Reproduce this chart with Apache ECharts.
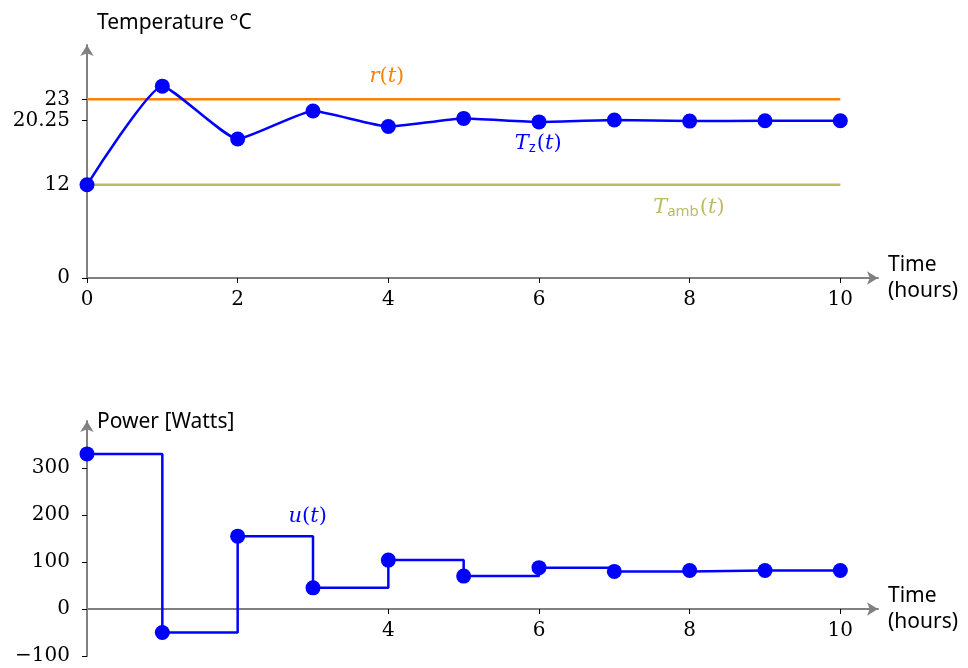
<!DOCTYPE html>
<html>
<head>
<meta charset="utf-8">
<script src="https://cdn.jsdelivr.net/npm/echarts@6/dist/echarts.min.js"></script>
<style>html,body{margin:0;padding:0;background:#fff}#c{width:968px;height:668px}</style>
</head>
<body>
<div id="c"></div>
<script>
// ---- data ----
const hours = [0, 1, 2, 3, 4, 5, 6, 7, 8, 9, 10];
const zoneTemp = [12, 24.7, 17.9, 21.5, 19.5, 20.55, 20.1, 20.35, 20.2, 20.25, 20.25];
const refTemp = [23, 23];
const ambTemp = [12, 12];
const refHours = [0, 10];
const power = [330, -50, 155, 45, 104, 70, 88, 80, 82, 82, 82];
const tempTicks = [0, 12, 20.25, 23];
const powerTicks = [-100, 0, 100, 200, 300];
const topHourTicks = [0, 2, 4, 6, 8, 10];
const bottomHourTicks = [4, 6, 8, 10];

const GRAY = '#808080';
const BLUE = '#0000ff';
const ORANGE = '#ff8000';
const OLIVE = '#bcbc62';
const SERIF = '"DejaVu Serif", "Liberation Serif", serif';
const SANS = '"Noto Sans", "DejaVu Sans", sans-serif';

const pairs = (xs, ys) => xs.map((x, i) => [x, ys[i]]);

function xAxisDef(gridIndex, ticks, offset) {
  return {
    type: 'value', gridIndex, min: 0, max: 10.5, offset,
    name: 'Time\n(hours)', nameLocation: 'end', nameGap: 10, nameMoveOverlap: false,
    nameTextStyle: { fontFamily: SANS, fontSize: 21, color: '#000', align: 'left', lineHeight: 26 },
    axisLine: { show: true, onZero: false, lineStyle: { color: GRAY, width: 2 }, symbol: ['none', 'arrow'], symbolSize: [10, 11] },
    axisTick: { show: true, length: 5, inside: false, lineStyle: { color: '#000', width: 1 }, customValues: ticks },
    axisLabel: { show: true, margin: 12, fontFamily: SERIF, fontSize: 20, color: '#000', customValues: ticks },
    splitLine: { show: false }
  };
}
function yAxisDef(gridIndex, min, max, ticks, name, fmt, nameGap) {
  return {
    type: 'value', gridIndex, min, max,
    name, nameLocation: 'end', nameGap, nameMoveOverlap: false,
    nameTextStyle: { fontFamily: SANS, fontSize: 21, color: '#000', align: 'left', padding: [0, 0, 0, 10] },
    axisLine: { show: true, onZero: false, lineStyle: { color: GRAY, width: 2 }, symbol: ['none', 'arrow'], symbolSize: [10, 11] },
    axisTick: { show: true, length: 5, inside: false, lineStyle: { color: '#000', width: 1 }, customValues: ticks },
    axisLabel: { show: true, margin: 17, fontFamily: SERIF, fontSize: 20, color: '#000', customValues: ticks, formatter: fmt },
    splitLine: { show: false }
  };
}

function textMark(coord, formatter, rich) {
  return {
    symbol: 'circle', symbolSize: 0, silent: true,
    label: { show: true, position: 'inside', formatter, rich },
    data: [{ coord }]
  };
}

const MATH = { fontFamily: SERIF, fontStyle: 'italic', fontSize: 21 };
const NUM = { fontFamily: SERIF, fontSize: 21 };
const SUB = { fontFamily: SANS, fontSize: 15, padding: [9, 1, 0, 0] };

const chart = echarts.init(document.getElementById('c'), null, { renderer: 'canvas' });
chart.setOption({
  animation: false,
  backgroundColor: '#fff',
  grid: [
    { left: 87, top: 45, width: 791, height: 233, outerBoundsMode: 'none', containLabel: false },
    { left: 87, top: 421, width: 791, height: 235, outerBoundsMode: 'none', containLabel: false }
  ],
  xAxis: [xAxisDef(0, topHourTicks, 0), xAxisDef(1, bottomHourTicks, -47)],
  yAxis: [
    yAxisDef(0, 0, 30, tempTicks, 'Temperature °C', v => String(v), 11),
    yAxisDef(1, -100, 400, powerTicks, 'Power [Watts]', v => (v < 0 ? '\u2212' + Math.abs(v) : String(v)), -12)
  ],
  series: [
    {
      name: 'r(t)', type: 'line', xAxisIndex: 0, yAxisIndex: 0,
      data: pairs(refHours, refTemp), showSymbol: false, symbol: 'none',
      lineStyle: { color: ORANGE, width: 2.5 }, z: 2,
      markPoint: textMark([3.98, 26], '{i|r}{n|(}{i|t}{n|)}', {
        i: Object.assign({ color: ORANGE }, MATH),
        n: Object.assign({ color: ORANGE }, NUM)
      })
    },
    {
      name: 'Tamb(t)', type: 'line', xAxisIndex: 0, yAxisIndex: 0,
      data: pairs(refHours, ambTemp), showSymbol: false, symbol: 'none',
      lineStyle: { color: OLIVE, width: 2.5 }, z: 2,
      markPoint: textMark([7.99, 9.1], '{i|T}{s|amb}{n|(}{i|t}{n|)}', {
        i: Object.assign({ color: OLIVE }, MATH),
        s: Object.assign({ color: OLIVE }, SUB),
        n: Object.assign({ color: OLIVE }, NUM)
      })
    },
    {
      name: 'Tz(t)', type: 'line', xAxisIndex: 0, yAxisIndex: 0,
      data: pairs(hours, zoneTemp), smooth: 0.15,
      symbol: 'circle', symbolSize: 15, showSymbol: true,
      itemStyle: { color: BLUE }, lineStyle: { color: BLUE, width: 2.5 }, z: 3,
      markPoint: textMark([5.99, 17.3], '{i|T}{s|z}{n|(}{i|t}{n|)}', {
        i: Object.assign({ color: BLUE }, MATH),
        s: Object.assign({ color: BLUE }, SUB),
        n: Object.assign({ color: BLUE }, NUM)
      })
    },
    {
      name: 'u(t)', type: 'line', xAxisIndex: 1, yAxisIndex: 1,
      data: pairs(hours, power), step: 'end',
      symbol: 'circle', symbolSize: 15, showSymbol: true,
      itemStyle: { color: BLUE }, lineStyle: { color: BLUE, width: 2.5 }, z: 3,
      markPoint: textMark([2.93, 197], '{i|u}{n|(}{i|t}{n|)}', {
        i: Object.assign({ color: BLUE }, MATH),
        n: Object.assign({ color: BLUE }, NUM)
      })
    }
  ]
});
</script>
</body>
</html>
